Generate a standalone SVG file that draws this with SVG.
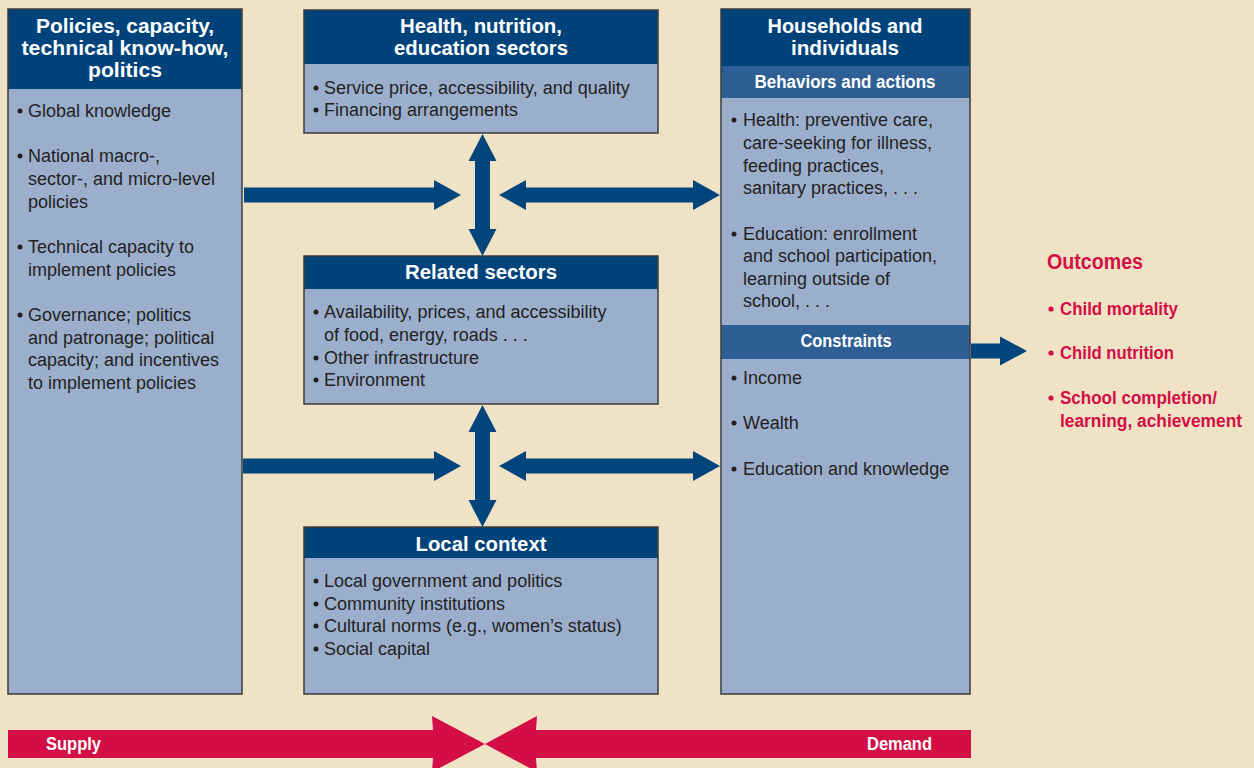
<svg xmlns="http://www.w3.org/2000/svg" width="1254" height="768" viewBox="0 0 1254 768">
<style>
.bg{fill:#F0E2C4}
.body{fill:#9BAFCD}
.hdr{fill:#00437A}
.sub{fill:#2D5F94}
.frame{fill:none;stroke:#3C3C3C;stroke-width:1.5}
.ht{font-family:"Liberation Sans",Arial,sans-serif;font-weight:bold;font-size:20px;fill:#FFFFFF;text-anchor:middle}
.st{font-family:"Liberation Sans",Arial,sans-serif;font-weight:bold;font-size:18px;fill:#FFFFFF;text-anchor:middle}
.tx{font-family:"Liberation Sans",Arial,sans-serif;font-size:18px;fill:#231F20}
.bu{fill:#231F20}
.arr{fill:#00457C}
.red{fill:#D30D45}
.ot{font-family:"Liberation Sans",Arial,sans-serif;font-weight:bold;font-size:18px;fill:#D30D45}
.sd{font-family:"Liberation Sans",Arial,sans-serif;font-weight:bold;font-size:18px;fill:#FFFFFF}
</style>
<rect class="bg" x="0" y="0" width="1254" height="768"/>

<g id="connectors">
  <polygon class="arr" points="244,187.5 434,187.5 434,180 461,195 434,210 434,202.5 244,202.5"/>
  <polygon class="arr" points="499,195 526,180 526,187.5 693,187.5 693,180 720,195 693,210 693,202.5 526,202.5 526,210"/>
  <polygon class="arr" points="482.5,134 496.5,161 490,161 490,229 496.5,229 482.5,256 468.5,229 475,229 475,161 468.5,161"/>
  <polygon class="arr" points="243,458.5 434,458.5 434,451 461,466 434,481 434,473.5 243,473.5"/>
  <polygon class="arr" points="499,466 526,451 526,458.5 693,458.5 693,451 720,466 693,481 693,473.5 526,473.5 526,481"/>
  <polygon class="arr" points="482.5,405 496.5,432 490,432 490,500 496.5,500 482.5,527 468.5,500 475,500 475,432 468.5,432"/>
  <polygon class="arr" points="971,343.5 1000,343.5 1000,336.5 1027,351 1000,365.5 1000,358.5 971,358.5"/>
</g>

<g id="policies">
  <rect class="body" x="8" y="9" width="234" height="685"/>
  <rect class="hdr" x="8" y="9" width="234" height="80"/>
  <rect class="frame" x="8" y="9" width="234" height="685"/>
  <text class="ht" x="125" y="33" textLength="178" lengthAdjust="spacingAndGlyphs">Policies, capacity,</text>
  <text class="ht" x="125" y="55" textLength="207" lengthAdjust="spacingAndGlyphs">technical know-how,</text>
  <text class="ht" x="125" y="77" textLength="74" lengthAdjust="spacingAndGlyphs">politics</text>
  <circle class="bu" cx="20" cy="111" r="2.5"/>
  <text class="tx" x="28" y="117">Global knowledge</text>
  <circle class="bu" cx="20" cy="156" r="2.5"/>
  <text class="tx" x="28" y="162">National macro-,</text>
  <text class="tx" x="28" y="185">sector-, and micro-level</text>
  <text class="tx" x="28" y="208">policies</text>
  <circle class="bu" cx="20" cy="247" r="2.5"/>
  <text class="tx" x="28" y="253">Technical capacity  to</text>
  <text class="tx" x="28" y="276">implement policies</text>
  <circle class="bu" cx="20" cy="315" r="2.5"/>
  <text class="tx" x="28" y="321">Governance; politics</text>
  <text class="tx" x="28" y="344">and patronage; political</text>
  <text class="tx" x="28" y="366">capacity; and incentives</text>
  <text class="tx" x="28" y="389">to implement policies</text>
</g>

<g id="health">
  <rect class="body" x="304" y="10" width="354" height="123"/>
  <rect class="hdr" x="304" y="10" width="354" height="54"/>
  <rect class="frame" x="304" y="10" width="354" height="123"/>
  <text class="ht" x="481" y="33" textLength="162" lengthAdjust="spacingAndGlyphs">Health, nutrition,</text>
  <text class="ht" x="481" y="55" textLength="174" lengthAdjust="spacingAndGlyphs">education sectors</text>
  <circle class="bu" cx="316" cy="88" r="2.5"/>
  <text class="tx" x="324" y="94">Service price, accessibility, and quality</text>
  <circle class="bu" cx="316" cy="110" r="2.5"/>
  <text class="tx" x="324" y="116">Financing arrangements</text>
</g>

<g id="related">
  <rect class="body" x="304" y="256" width="354" height="148"/>
  <rect class="hdr" x="304" y="256" width="354" height="33"/>
  <rect class="frame" x="304" y="256" width="354" height="148"/>
  <text class="ht" x="481" y="279" textLength="152" lengthAdjust="spacingAndGlyphs">Related sectors</text>
  <circle class="bu" cx="316" cy="312" r="2.5"/>
  <text class="tx" x="324" y="318">Availability, prices, and accessibility</text>
  <text class="tx" x="324" y="341">of food, energy, roads . . .</text>
  <circle class="bu" cx="316" cy="358" r="2.5"/>
  <text class="tx" x="324" y="364">Other infrastructure</text>
  <circle class="bu" cx="316" cy="380" r="2.5"/>
  <text class="tx" x="324" y="386">Environment</text>
</g>

<g id="local">
  <rect class="body" x="304" y="527" width="354" height="167"/>
  <rect class="hdr" x="304" y="527" width="354" height="31"/>
  <rect class="frame" x="304" y="527" width="354" height="167"/>
  <text class="ht" x="481" y="551" textLength="131" lengthAdjust="spacingAndGlyphs">Local context</text>
  <circle class="bu" cx="316" cy="581" r="2.5"/>
  <text class="tx" x="324" y="587">Local government and politics</text>
  <circle class="bu" cx="316" cy="604" r="2.5"/>
  <text class="tx" x="324" y="610">Community institutions</text>
  <circle class="bu" cx="316" cy="626" r="2.5"/>
  <text class="tx" x="324" y="632">Cultural norms (e.g., women’s status)</text>
  <circle class="bu" cx="316" cy="649" r="2.5"/>
  <text class="tx" x="324" y="655">Social capital</text>
</g>

<g id="households">
  <rect class="body" x="721" y="9" width="249" height="685"/>
  <rect class="hdr" x="721" y="9" width="249" height="57"/>
  <rect class="sub" x="721" y="66" width="249" height="32"/>
  <rect class="sub" x="721" y="325" width="249" height="34"/>
  <rect class="frame" x="721" y="9" width="249" height="685"/>
  <text class="ht" x="845" y="33" textLength="155" lengthAdjust="spacingAndGlyphs">Households and</text>
  <text class="ht" x="845" y="55" textLength="108" lengthAdjust="spacingAndGlyphs">individuals</text>
  <text class="st" x="845" y="88" textLength="181" lengthAdjust="spacingAndGlyphs">Behaviors and actions</text>
  <circle class="bu" cx="734" cy="120" r="2.5"/>
  <text class="tx" x="743" y="126">Health: preventive care,</text>
  <text class="tx" x="743" y="149">care-seeking for illness,</text>
  <text class="tx" x="743" y="172">feeding practices,</text>
  <text class="tx" x="743" y="194">sanitary practices, . . .</text>
  <circle class="bu" cx="734" cy="234" r="2.5"/>
  <text class="tx" x="743" y="240">Education: enrollment</text>
  <text class="tx" x="743" y="262">and school participation,</text>
  <text class="tx" x="743" y="285">learning outside of</text>
  <text class="tx" x="743" y="307">school, . . .</text>
  <text class="st" x="846" y="347" textLength="91" lengthAdjust="spacingAndGlyphs">Constraints</text>
  <circle class="bu" cx="734" cy="378" r="2.5"/>
  <text class="tx" x="743" y="384">Income</text>
  <circle class="bu" cx="734" cy="423" r="2.5"/>
  <text class="tx" x="743" y="429">Wealth</text>
  <circle class="bu" cx="734" cy="469" r="2.5"/>
  <text class="tx" x="743" y="475">Education and knowledge</text>
</g>

<g id="outcomes">
  <text class="ot" x="1047" y="269" style="font-size:22px" textLength="96" lengthAdjust="spacingAndGlyphs">Outcomes</text>
  <circle class="red" cx="1051" cy="309" r="2.6"/>
  <text class="ot" x="1060" y="315" textLength="118" lengthAdjust="spacingAndGlyphs">Child mortality</text>
  <circle class="red" cx="1051" cy="353" r="2.6"/>
  <text class="ot" x="1060" y="359" textLength="114" lengthAdjust="spacingAndGlyphs">Child nutrition</text>
  <circle class="red" cx="1051" cy="398" r="2.6"/>
  <text class="ot" x="1060" y="404" textLength="157" lengthAdjust="spacingAndGlyphs">School completion/</text>
  <text class="ot" x="1060" y="427" textLength="182" lengthAdjust="spacingAndGlyphs">learning, achievement</text>
</g>

<g id="supply-demand">
  <polygon class="red" points="8,730 433,730 432,716 485,744 432,772 433,758 8,758"/>
  <polygon class="red" points="971,730 536,730 537,716 485,744 537,772 536,758 971,758"/>
  <text class="sd" x="46" y="750" textLength="55" lengthAdjust="spacingAndGlyphs">Supply</text>
  <text class="sd" x="867" y="750" textLength="65" lengthAdjust="spacingAndGlyphs">Demand</text>
</g>
</svg>
